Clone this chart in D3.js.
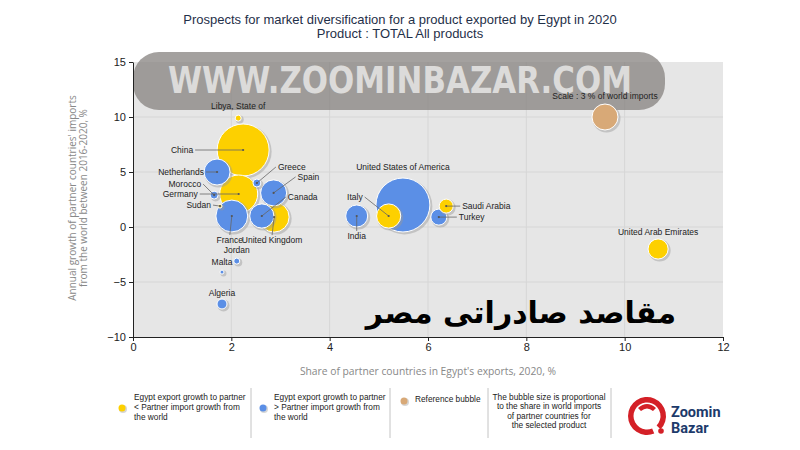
<!DOCTYPE html>
<html>
<head>
<meta charset="utf-8">
<script src="https://cdn.jsdelivr.net/npm/d3@7"></script>
<style>
body{margin:0;background:#fff;}
svg text{font-family:"Liberation Sans",Arial,sans-serif;}
</style>
</head>
<body>
<div id="plot"></div>
<script>
//Chart Data;
const countries=["China","United States of America","Germany","France","United Kingdom","Netherlands","Spain","Canada","Italy","India","United Arab Emirates","Turkey","Saudi Arabia","Algeria","Greece","Morocco","Libya, State of","Jordan","Sudan","Malta"];
const exportShare=[2.24,5.49,2.15,2.01,2.87,1.71,2.86,2.62,5.2,4.55,10.68,6.22,6.37,1.81,2.52,1.65,2.14,2.11,1.77,1.81];
const importGrowth=[7.0,2.0,3.0,1.0,0.9,5.0,3.1,1.0,1.0,1.0,-2.0,0.9,1.9,-7.0,4.0,2.9,9.9,-3.1,1.9,-4.1];
const worldImportShare=[12.0,12.9,6.4,4.5,4.0,3.0,3.0,2.6,2.6,2.15,1.8,1.14,0.87,0.44,0.28,0.28,0.16,0.16,0.07,0.07];
const growthGroup=["lt","gt","lt","gt","lt","gt","gt","gt","lt","gt","lt","gt","lt","gt","gt","gt","lt","gt","lt","gt"];
const refBubble={label:"Scale : 3 % of world imports",x:9.6,y:10,share:3};
const xTicks=[0,2,4,6,8,10,12];
const yTicks=[-10,-5,0,5,10,15];

//Label Layout [dx,dy,anchor,leader];
const labelPos={
	"China":[-50,0,"end",true],
	"United States of America":[0,-38,"middle",false],
	"Germany":[-41,0,"end",true],
	"France":[-2,24,"middle",true],
	"United Kingdom":[-2,23,"middle",true],
	"Netherlands":[-13,0,"end",true],
	"Spain":[24,-16,"start",true],
	"Canada":[26,-19,"start",true],
	"Italy":[-26,-19,"end",true],
	"India":[0,20,"middle",true],
	"United Arab Emirates":[0,-17,"middle",false],
	"Turkey":[20,0,"start",true],
	"Saudi Arabia":[16,0,"start",true],
	"Algeria":[0,-11,"middle",false],
	"Greece":[21,-16,"start",true],
	"Morocco":[-13,-11,"end",true],
	"Libya, State of":[0,-12,"middle",false],
	"Jordan":[0,-11,"middle",false],
	"Sudan":[-9,-1,"end",true],
	"Malta":[0,-10,"middle",false]
};

const colors={lt:"#fdd000",gt:"#5b8fe6",ref:"#d8a977"};

//Set Height and Width Vars;
const w=800;
const h=450;

const svg=d3.select("#plot")
			.append("svg")
			  .attr("width",w)
			  .attr("height",h);

//Scales;
const x=d3.scaleLinear().domain([0,12]).range([133,723]);
const y=d3.scaleLinear().domain([-10,15]).range([337,62]);
const r=d3.scaleSqrt().domain([0,3]).range([0,13]);

//Title;
svg.append("text")
   .attr("x",400).attr("y",24)
   .attr("text-anchor","middle")
   .style("font-size","13px").style("fill","#1f3049")
   .text("Prospects for market diversification for a product exported by Egypt in 2020");
svg.append("text")
   .attr("x",400).attr("y",38)
   .attr("text-anchor","middle")
   .style("font-size","13px").style("fill","#1f3049")
   .text("Product : TOTAL All products");

//Plot Background;
svg.append("rect")
   .attr("x",x(0)).attr("y",y(15))
   .attr("width",x(12)-x(0)).attr("height",y(-10)-y(15))
   .attr("fill","#e6e6e6");

//Grid;
svg.selectAll(".gx")
   .data(xTicks.slice(1,-1))
   .enter()
 .append("line")
   .attr("x1",d=>x(d)).attr("x2",d=>x(d))
   .attr("y1",y(15)).attr("y2",y(-10))
   .attr("stroke","#d6d6d6");
svg.selectAll(".gy")
   .data(yTicks.slice(1,-1))
   .enter()
 .append("line")
   .attr("x1",x(0)).attr("x2",x(12))
   .attr("y1",d=>y(d)).attr("y2",d=>y(d))
   .attr("stroke","#d6d6d6");

//Watermark;
svg.append("rect")
   .attr("x",133).attr("y",52)
   .attr("width",532).attr("height",58)
   .attr("rx",26)
   .attr("fill","#86827f").attr("opacity",0.75);
svg.append("text")
   .attr("x",168).attr("y",93)
   .attr("textLength",464).attr("lengthAdjust","spacingAndGlyphs")
   .style("font-family","DejaVu Sans").style("font-weight","bold")
   .style("font-size","37px").style("fill","#dcdbda")
   .text("WWW.ZOOMINBAZAR.COM");

//Axes;
const xAxis=svg.append("g")
   .attr("transform","translate(0,"+y(-10)+")")
   .call(d3.axisBottom(x).tickValues(xTicks).tickSize(4).tickSizeOuter(0).tickPadding(2));
const yAxis=svg.append("g")
   .attr("transform","translate("+x(0)+",0)")
   .call(d3.axisLeft(y).tickValues(yTicks).tickSize(4).tickSizeOuter(0).tickPadding(3));
[xAxis,yAxis].forEach(function(a){
	a.select(".domain").attr("stroke","#222");
	a.selectAll(".tick line").attr("stroke","#222");
	a.selectAll(".tick text")
	 .style("font-family","Liberation Sans Narrow, Liberation Sans")
	 .style("font-size","11px").style("fill","#222");
});

//Axis Titles;
svg.append("text")
   .attr("x",428).attr("y",375)
   .attr("text-anchor","middle")
   .style("font-family","Open Sans").style("font-size","10.3px").style("fill","#888")
   .text("Share of partner countries in Egypt's exports, 2020, %");
const yt=svg.append("text")
   .attr("transform","translate(76,198) rotate(-90)")
   .attr("text-anchor","middle")
   .style("font-family","Open Sans").style("font-size","10px").style("fill","#888");
yt.append("tspan").attr("x",0).attr("y",0).text("Annual growth of partner countries' imports");
yt.append("tspan").attr("x",0).attr("y",11).text("from the world between 2016-2020, %");

//Bubble Data;
let bubbles=countries.map(function(c,i){
	return {name:c,sx:exportShare[i],gy:importGrowth[i],s:worldImportShare[i],g:growthGroup[i]};
});
bubbles.sort((a,b)=>b.s-a.s);

//Reference Bubble;
const ref=svg.append("g");
ref.append("circle")
   .attr("cx",x(refBubble.x)+1.5).attr("cy",y(refBubble.y)+1.5)
   .attr("r",r(refBubble.share)+1).attr("fill","#999").attr("opacity",0.45);
ref.append("circle")
   .attr("cx",x(refBubble.x)).attr("cy",y(refBubble.y))
   .attr("r",r(refBubble.share))
   .attr("fill",colors.ref).attr("stroke","#fff").attr("stroke-width",1);
ref.append("text")
   .attr("x",x(refBubble.x)).attr("y",y(refBubble.y)-21)
   .attr("dy","0.35em").attr("text-anchor","middle")
   .style("font-size","8.5px").style("fill","#222")
   .text(refBubble.label);

//Bubbles;
const bg=svg.selectAll(".bubble")
   .data(bubbles)
   .enter()
 .append("g")
   .attr("class","bubble");
bg.append("circle")
   .attr("cx",d=>x(d.sx)+1.5).attr("cy",d=>y(d.gy)+1.5)
   .attr("r",d=>r(d.s)+1)
   .attr("fill","#999").attr("opacity",0.45);
bg.append("circle")
   .attr("cx",d=>x(d.sx)).attr("cy",d=>y(d.gy))
   .attr("r",d=>r(d.s))
   .attr("fill",d=>colors[d.g])
   .attr("stroke","#fff").attr("stroke-width",1);

//Labels and Leaders;
bubbles.forEach(function(d){
	const p=labelPos[d.name];
	const cx=x(d.sx), cy=y(d.gy);
	if(p[3]){
		let lx=cx+p[0], ly=cy+p[1];
		if(p[2]==="end") lx+=2;
		else if(p[2]==="start") lx-=2;
		else ly+=(p[1]>0?-5:5);
		svg.append("line")
		   .attr("x1",lx).attr("y1",ly).attr("x2",cx).attr("y2",cy)
		   .attr("stroke","#666").attr("stroke-width",0.8);
		svg.append("circle")
		   .attr("cx",cx).attr("cy",cy).attr("r",1.1).attr("fill","#555");
	}
	svg.append("text")
	   .attr("x",cx+p[0]).attr("y",cy+p[1])
	   .attr("dy","0.35em").attr("text-anchor",p[2])
	   .style("font-size","8.5px").style("fill","#222")
	   .text(d.name);
});

//Arabic Overlay;
svg.append("text")
   .attr("x",676).attr("y",323)
   .attr("text-anchor","end")
   .style("font-family","DejaVu Sans").style("font-weight","bold")
   .style("font-size","30px").style("fill","#000")
   .text("مقاصد صادراتى مصر");

//Legend;
const legendItems=[
	{c:colors.lt,x:122,y:408,lines:["Egypt export growth to partner","< Partner import growth from","the world"],tx:134,ty:397},
	{c:colors.gt,x:263,y:408,lines:["Egypt export growth to partner","> Partner import growth from","the world"],tx:274,ty:397},
	{c:colors.ref,x:404,y:401,lines:["Reference bubble"],tx:415,ty:399}
];
legendItems.forEach(function(l){
	svg.append("circle").attr("cx",l.x+1).attr("cy",l.y+1).attr("r",4).attr("fill","#bbb").attr("opacity",0.6);
	svg.append("circle").attr("cx",l.x).attr("cy",l.y).attr("r",3.5).attr("fill",l.c);
	const t=svg.append("text").style("font-size","8.3px").style("fill","#222");
	l.lines.forEach(function(s,i){
		t.append("tspan").attr("x",l.tx).attr("y",l.ty+i*10).attr("dy","0.35em").text(s);
	});
});
const noteLines=["The bubble size is proportional","to the share in world imports","of partner countries for","the selected product"];
const nt=svg.append("text").attr("text-anchor","middle").style("font-size","8.3px").style("fill","#222");
noteLines.forEach(function(s,i){
	nt.append("tspan").attr("x",549).attr("y",397+i*9.5).attr("dy","0.35em").text(s);
});
[251,390,488,611].forEach(function(sx){
	svg.append("line").attr("x1",sx).attr("x2",sx).attr("y1",388).attr("y2",438)
	   .attr("stroke","#c4c4c4").attr("stroke-width",1);
});

//Logo;
const logo=svg.append("g");
logo.append("path")
	.attr("d",d3.arc().innerRadius(13.5).outerRadius(19).startAngle(2.75).endAngle(2*Math.PI+2.35)())
	.attr("transform","translate(647,416)")
	.attr("fill","#d42027");
logo.append("path")
	.attr("d","M638,408 Q647,400 656,408 L653,411 Q647,406 641,411 Z")
	.attr("fill","#d42027");
logo.append("circle").attr("cx",661).attr("cy",431).attr("r",2.8).attr("fill","#d42027");
logo.append("text").attr("x",671).attr("y",417)
	.style("font-family","Roboto").style("font-weight","bold").style("font-size","14.5px").style("fill","#1d3a6b")
	.text("Zoomin");
logo.append("text").attr("x",671).attr("y",433)
	.style("font-family","Roboto").style("font-weight","bold").style("font-size","14.5px").style("fill","#1d3a6b")
	.text("Bazar");
</script>
</body>
</html>
